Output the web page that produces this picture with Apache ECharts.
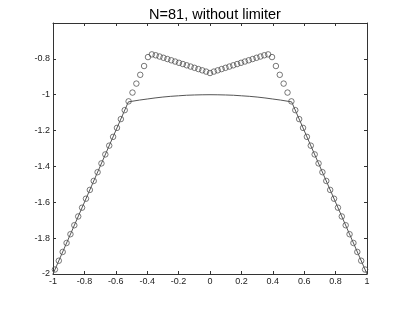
<!DOCTYPE html>
<html>
<head>
<meta charset="utf-8">
<script src="https://cdn.jsdelivr.net/npm/echarts@6/dist/echarts.min.js"></script>
<style>
html,body{margin:0;padding:0;background:#fff;}
#chart{width:405px;height:309px;}
</style>
</head>
<body>
<div id="chart"></div>
<script>
// Cell-centre x positions (81 cells on [-1,1])
var xCells = [
 -0.9877,-0.9630,-0.9383,-0.9136,-0.8889,-0.8642,-0.8395,-0.8148,-0.7901,-0.7654,
 -0.7407,-0.7160,-0.6914,-0.6667,-0.6420,-0.6173,-0.5926,-0.5679,-0.5432,-0.5185,
 -0.4938,-0.4691,-0.4444,-0.4198,-0.3951,-0.3704,-0.3457,-0.3210,-0.2963,-0.2716,
 -0.2469,-0.2222,-0.1975,-0.1728,-0.1481,-0.1235,-0.0988,-0.0741,-0.0494,-0.0247,
 0,
 0.0247,0.0494,0.0741,0.0988,0.1235,0.1481,0.1728,0.1975,0.2222,0.2469,
 0.2716,0.2963,0.3210,0.3457,0.3704,0.3951,0.4198,0.4444,0.4691,0.4938,
 0.5185,0.5432,0.5679,0.5926,0.6173,0.6420,0.6667,0.6914,0.7160,0.7407,
 0.7654,0.7901,0.8148,0.8395,0.8642,0.8889,0.9136,0.9383,0.9630,0.9877
];
// Numerical solution (circles)
var yNumeric = [
 -1.975,-1.926,-1.877,-1.827,-1.778,-1.728,-1.679,-1.630,-1.580,-1.531,
 -1.481,-1.432,-1.383,-1.333,-1.284,-1.235,-1.185,-1.136,-1.086,-1.037,
 -0.988,-0.938,-0.889,-0.840,-0.790,-0.775,-0.780,-0.787,-0.794,-0.801,
 -0.808,-0.815,-0.822,-0.829,-0.836,-0.843,-0.850,-0.857,-0.864,-0.871,
 -0.879,
 -0.871,-0.864,-0.857,-0.850,-0.843,-0.836,-0.829,-0.822,-0.815,-0.808,
 -0.801,-0.794,-0.787,-0.780,-0.775,-0.790,-0.840,-0.889,-0.938,-0.988,
 -1.037,-1.086,-1.136,-1.185,-1.235,-1.284,-1.333,-1.383,-1.432,-1.481,
 -1.531,-1.580,-1.630,-1.679,-1.728,-1.778,-1.827,-1.877,-1.926,-1.975
];
// Exact solution (solid line)
var xExact = [-1,-0.52,-0.45,-0.4,-0.35,-0.3,-0.25,-0.2,-0.15,-0.1,-0.05,0,0.05,0.1,0.15,0.2,0.25,0.3,0.35,0.4,0.45,0.52,1];
var yExact = [-2,-1.040,-1.030,-1.024,-1.018,-1.013,-1.009,-1.006,-1.003,-1.0015,-1.0004,-1.0,-1.0004,-1.0015,-1.003,-1.006,-1.009,-1.013,-1.018,-1.024,-1.030,-1.040,-2];

var titleText = 'N=81, without limiter';
var xTicks = [-1,-0.8,-0.6,-0.4,-0.2,0,0.2,0.4,0.6,0.8,1];
var yTicks = [-2,-1.8,-1.6,-1.4,-1.2,-1,-0.8];

function fmt(v){
  var s = String(Math.round(v*10)/10);
  return s;
}
var numData = xCells.map(function(x,i){return [x,yNumeric[i]];});
var exData = xExact.map(function(x,i){return [x,yExact[i]];});

var axisCol = '#333';
var chart = echarts.init(document.getElementById('chart'), null, {renderer:'canvas'});
chart.setOption({
  animation:false,
  backgroundColor:'#fff',
  title:{text:titleText,left:210,top:2,textAlign:'center',
    textStyle:{fontFamily:'Liberation Sans, Arial, sans-serif',fontSize:14.5,fontWeight:'normal',color:'#000'}},
  grid:{left:53,right:38,top:23,bottom:35},
  xAxis:[{
    type:'value',min:-1,max:1,interval:0.2,position:'bottom',
    axisLine:{show:true,onZero:false,lineStyle:{color:axisCol,width:1}},
    axisTick:{show:true,inside:true,length:3,lineStyle:{color:axisCol}},
    axisLabel:{color:'#222',fontSize:9,fontFamily:'Liberation Sans, Arial, sans-serif',margin:3,
      formatter:function(v){return xTicks.indexOf(Math.round(v*10)/10)>=0?fmt(v):'';}},
    splitLine:{show:false}
  },{
    type:'value',min:-1,max:1,interval:0.2,position:'top',
    axisLine:{show:true,onZero:false,lineStyle:{color:axisCol,width:1}},
    axisTick:{show:true,inside:true,length:3,lineStyle:{color:axisCol}},
    axisLabel:{show:false},splitLine:{show:false}
  }],
  yAxis:[{
    type:'value',min:-2,max:-0.6,interval:0.2,position:'left',
    axisLine:{show:true,onZero:false,lineStyle:{color:axisCol,width:1}},
    axisTick:{show:true,inside:true,length:3,lineStyle:{color:axisCol}},
    axisLabel:{color:'#222',fontSize:9,fontFamily:'Liberation Sans, Arial, sans-serif',margin:3,
      formatter:function(v){return yTicks.indexOf(Math.round(v*10)/10)>=0?fmt(v):'';}},
    splitLine:{show:false}
  },{
    type:'value',min:-2,max:-0.6,interval:0.2,position:'right',
    axisLine:{show:true,onZero:false,lineStyle:{color:axisCol,width:1}},
    axisTick:{show:true,inside:true,length:3,lineStyle:{color:axisCol}},
    axisLabel:{show:false},splitLine:{show:false}
  }],
  series:[{
    type:'line',data:exData,xAxisIndex:0,yAxisIndex:0,
    showSymbol:false,smooth:false,
    lineStyle:{color:'#555',width:1}
  },{
    type:'scatter',data:numData,xAxisIndex:0,yAxisIndex:0,
    symbol:'circle',symbolSize:5.5,
    itemStyle:{color:'rgba(255,255,255,0)',borderColor:'#444',borderWidth:0.9}
  }]
});
</script>
</body>
</html>
